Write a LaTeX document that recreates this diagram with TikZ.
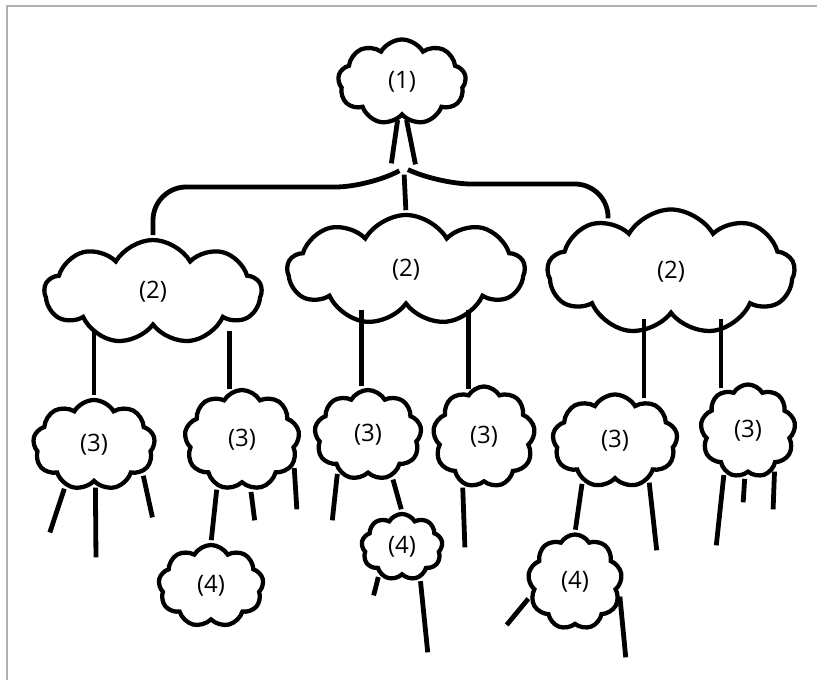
\documentclass[tikz,border=0pt]{standalone}
\usepackage{fontspec}
\setmainfont{Open Sans}
\usetikzlibrary{shapes.symbols}

\tikzset{
	puff/.style 2 args={cloud, draw, cloud puffs=9, cloud puff arc=120, cloud ignores aspect,
		line width=3.2pt, minimum width=#1*0.75pt, minimum height=#2*0.75pt, inner sep=0pt,
		font=\fontsize{18}{21}\selectfont},
	twig/.style={line width=3.6pt, shorten > = 2pt, shorten < = 2pt}
}

\begin{document}
\begin{tikzpicture}[x=0.75pt,y=-0.75pt]
	\useasboundingbox (0,0) rectangle (817,680);
	\draw[gray!60, line width=1.5pt] (7,680) -- (7,6) -- (817,6);

	\node[puff={128}{85}] (root) at (402,82) {(1)};

	\node[puff={217}{104}] (l2a) at (153,292) {(2)};
	\node[puff={237}{110}] (l2b) at (406,270) {(2)};
	\node[puff={247}{125}] (l2c) at (671,272) {(2)};

	\node[puff={122}{90}] (l3a) at (94,445) {(3)};
	\node[puff={115}{100}] (l3b) at (242,440) {(3)};
	\node[puff={107}{90}] (l3c) at (368,435) {(3)};
	\node[puff={102}{101}] (l3d) at (484,437) {(3)};
	\node[puff={125}{93}] (l3e) at (615,441) {(3)};
	\node[puff={95}{93}] (l3f) at (748,431) {(3)};

	\node[puff={105}{82}] (l4a) at (211,586) {(4)};
	\node[puff={81}{66}] (l4b) at (402,547) {(4)};
	\node[puff={94}{95}] (l4c) at (575,582) {(4)};

	% trunk and the three branches
	\coordinate (fork) at (404,172);
	\draw[twig] ([xshift=-3pt]root.south) -- ([shift={(-13,-6)}]fork);
	\draw[twig] ([xshift=3pt]root.south) -- ([shift={(12,-5)}]fork);
	\draw[twig,rounded corners=25] ([shift={(-7,0)}]fork) -- ++(-28,15) -| (l2a.north);
	\draw[twig] (fork) -- (l2b.north);
	\draw[twig,rounded corners=25] ([shift={(9,0)}]fork) -- ++(25,12) -| (l2c.141);

	% (2) -> (3)
	\foreach \p/\c/\a in {l2a/l3a/90, l2a/l3b/105, l2b/l3c/98, l2b/l3d/109, l2c/l3e/54, l2c/l3f/124}
		\draw[twig] (\p.south -| \c.\a) -- (\c.\a);

	% (3) -> (4)
	\draw[twig] (l3b.242) -- (l4a.north);
	\draw[twig] (l3c.300) -- (l4b.north);
	\draw[twig] (l3e.231) -- (l4c.north);

	% loose ends
	\foreach \n/\a/\x/\y in {l3a/235/49/535, l3a/272/96/560, l3a/330/153/520,
		l3b/280/255/523, l3b/334/297/512, l3c/230/332/523, l3d/246/465/550,
		l3e/311/657/553, l3f/240/716/548, l3f/266/743/505, l3f/305/773/512,
		l4b/230/373/598, l4b/300/428/655, l4c/198/505/627, l4c/345/626/660}
	{
		\coordinate (\n-\a) at (\x,\y);
		\draw[twig] (\n.\a) -- (\n-\a);
	}
\end{tikzpicture}
\end{document}
